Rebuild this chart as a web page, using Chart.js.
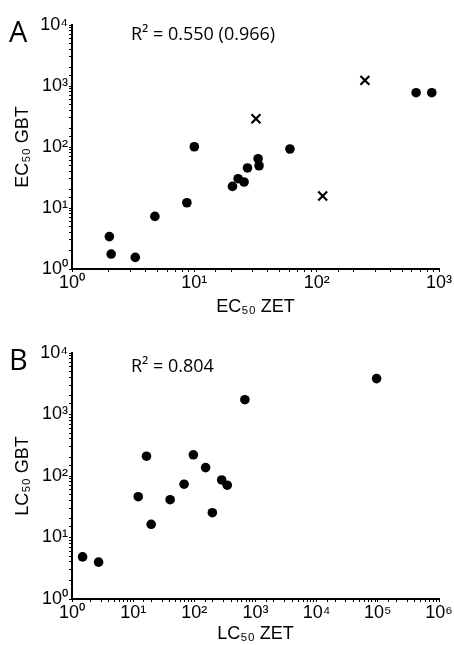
<!DOCTYPE html>
<html lang="en">
<head>
  <meta charset="UTF-8" />
  <title>EC50 / LC50 GBT vs ZET</title>
  <script src="https://cdn.jsdelivr.net/npm/chart.js@4"></script>
  <style>
    body { margin: 0; background: #fff; width: 454px; height: 645px; position: relative; overflow: hidden; }
    .panel { position: absolute; left: 0; width: 454px; }
    .letter { position: absolute; left: 9px; font-family: "Open Sans", sans-serif; font-size: 29px; line-height: 1; color: #000; }
    .r2 { position: absolute; left: 131px; font-family: "Open Sans", sans-serif; font-size: 18px; line-height: 1; color: #000; white-space: nowrap; }
  </style>
</head>
<body>
  <div class="panel" style="top:0;height:320px;"><canvas id="chartA"></canvas></div>
  <div class="panel" style="top:328px;height:317px;"><canvas id="chartB"></canvas></div>
  <div class="letter" style="top:16px;">A</div>
  <div class="r2" style="top:24px;">R² = 0.550 (0.966)</div>
  <div class="letter" style="top:344px;">B</div>
  <div class="r2" style="top:356px;">R² = 0.804</div>

  <script>
    // Panel A: EC50 (dots) and excluded points (crosses)
    const ecZet = [2.02, 2.09, 3.29, 4.76, 8.69, 10.0, 20.5, 22.8, 25.5, 27.2, 33.2, 33.8, 60.5, 650, 873];
    const ecGbt = [3.4, 1.76, 1.55, 7.28, 12.2, 101, 22.6, 30.2, 26.7, 45.3, 64.3, 49.3, 92.7, 776, 776];
    const ecZetOut = [31.9, 112, 248];
    const ecGbtOut = [291, 15.7, 1236];

    // Panel B: LC50
    const lcZet = [1.49, 2.72, 12.1, 16.5, 19.7, 40.2, 68, 96.4, 153, 197, 280, 345, 671, 95500];
    const lcGbt = [4.84, 3.97, 46.1, 210, 16.4, 41.2, 73.5, 221, 137, 25.3, 86.3, 70.8, 1742, 3837];

    const xMaxA = 1e3, xMaxB = 1e6, yMax = 1e4;
    const sup = ["⁰", "¹", "²", "³", "⁴", "⁵", "⁶"];

    const pts = (xs, ys) => xs.map((x, i) => ({ x: x, y: ys[i] }));

    function powLabel(v) {
      const e = Math.log10(v);
      if (Math.abs(e - Math.round(e)) < 1e-9) return "10" + sup[Math.round(e)];
      return "";
    }

    const tickFont = { family: "'Liberation Sans', Arial, sans-serif", size: 18 };

    function logAxis(max, title, fixed, isX, titlePad) {
      return {
        type: "logarithmic",
        min: 1,
        max: max,
        afterFit: s => { if (isX) s.height = fixed; else s.width = fixed; },
        border: { display: true, color: "#000", width: 2 },
        grid: { display: true, drawOnChartArea: false, drawTicks: true, tickLength: 3, tickColor: "#000", tickWidth: 1 },
        ticks: {
          autoSkip: false, maxRotation: 0, minRotation: 0,
          padding: isX ? 0 : 1,
          color: "#000", font: tickFont,
          callback: v => powLabel(v)
        },
        title: {
          display: true, text: title, color: "#000",
          font: { family: "'Liberation Sans', Arial, sans-serif", size: 18 },
          padding: titlePad
        }
      };
    }

    function makeChart(id, datasets, xMax, xTitle, yTitle, xHeight, xTitlePad) {
      return new Chart(document.getElementById(id), {
        type: "scatter",
        data: { datasets: datasets },
        options: {
          responsive: true,
          maintainAspectRatio: false,
          animation: false,
          layout: { padding: { top: 25, right: 15, left: 0, bottom: 0 } },
          plugins: { legend: { display: false }, tooltip: { enabled: false } },
          scales: {
            x: logAxis(xMax, xTitle, xHeight, true, { top: 0, bottom: xTitlePad }),
            y: logAxis(yMax, yTitle, 72, false, { top: 12, bottom: 0 })
          }
        }
      });
    }

    makeChart("chartA", [
      { data: pts(ecZet, ecGbt), pointStyle: "circle", pointRadius: 4.8, backgroundColor: "#000", borderWidth: 0 },
      { data: pts(ecZetOut, ecGbtOut), pointStyle: "crossRot", pointRadius: 6.3, borderColor: "#000", borderWidth: 2.2 }
    ], xMaxA, "EC₅₀ ZET", "EC₅₀ GBT", 51, 2);

    makeChart("chartB", [
      { data: pts(lcZet, lcGbt), pointStyle: "circle", pointRadius: 4.8, backgroundColor: "#000", borderWidth: 0 }
    ], xMaxB, "LC₅₀ ZET", "LC₅₀ GBT", 46, 0);
  </script>
</body>
</html>
